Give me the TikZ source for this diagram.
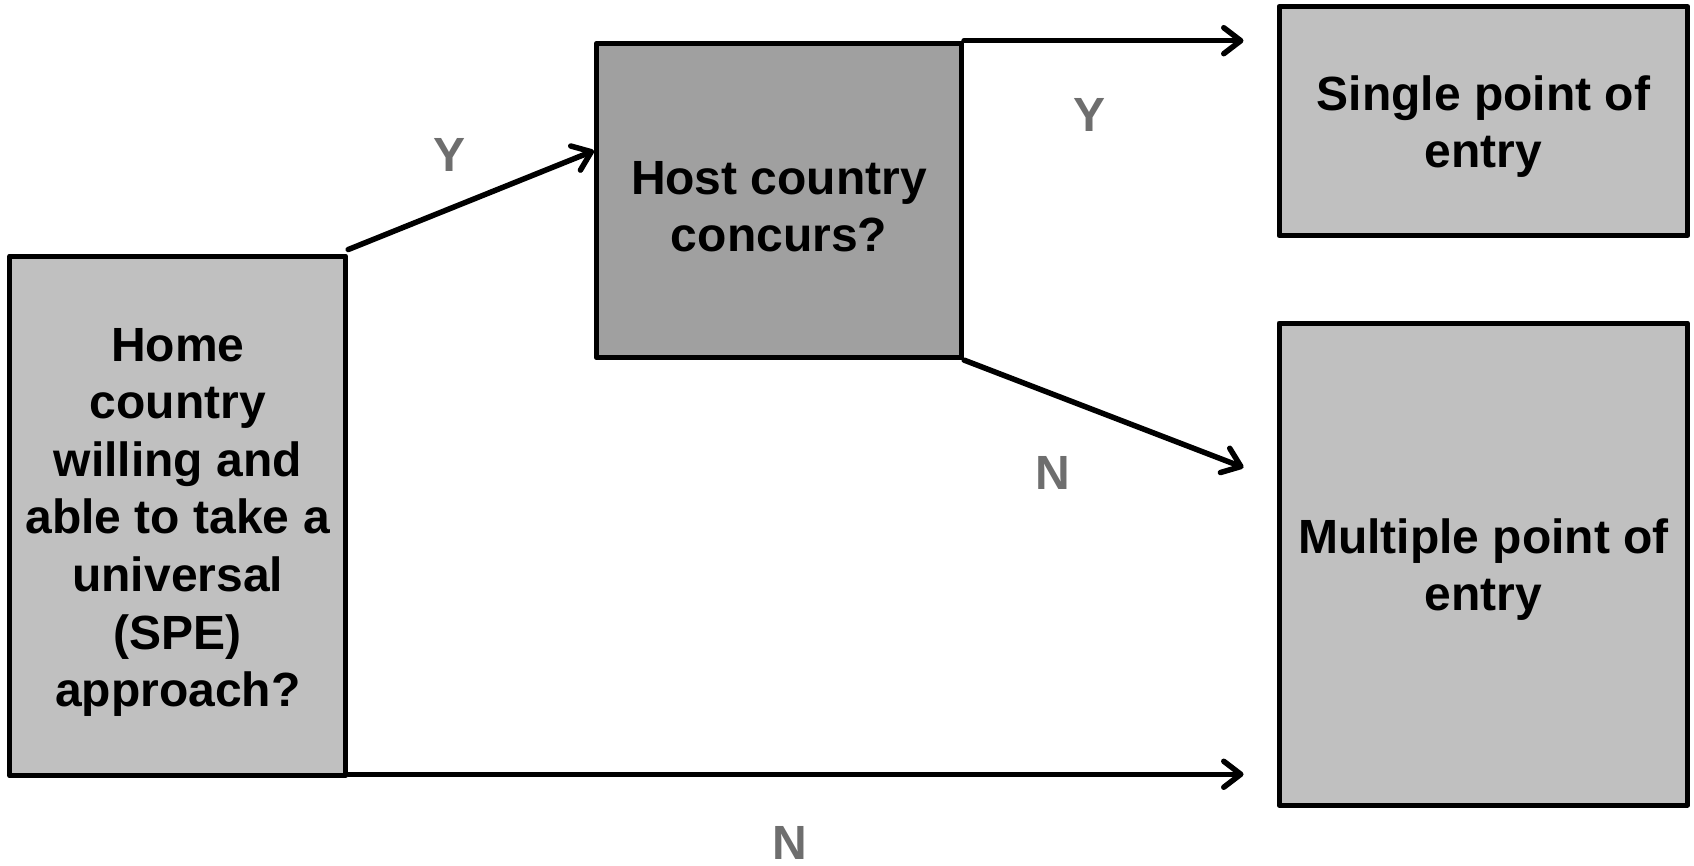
\documentclass[tikz,border=0pt]{standalone}
\usepackage{fontspec}
\setmainfont{Liberation Sans}
\usetikzlibrary{arrows.meta}
\definecolor{boxlight}{RGB}{192,192,192}
\definecolor{boxdark}{RGB}{160,160,160}
\definecolor{labgray}{RGB}{110,110,110}
\newcommand\mytopstrut{\rule{0pt}{46pt}}
\tikzset{
  box/.style={draw=black, line width=5pt, line join=round, rectangle, inner sep=0pt,
    align=center, font=\fontsize{48}{57.6}\selectfont\bfseries},
  conn/.style={draw=black, line width=5.5pt, line cap=round, -{Straight Barb[length=17pt,width=26pt,line cap=round,line join=round]}},
  lab/.style={text=labgray, font=\fontsize{48}{57.6}\selectfont\bfseries, inner sep=0pt}
}
\begin{document}
\begin{tikzpicture}[x=1pt,y=-1pt]
\useasboundingbox (0,0) rectangle (1694,865);
\node[box, fill=boxlight, minimum width=336pt, minimum height=519.7pt] (home) at (177.7,515.9)
  {\mytopstrut Home\\country\\willing and\\able to take a\\universal\\(SPE)\\approach?};
\node[box, fill=boxdark, minimum width=365.2pt, minimum height=314.4pt] (host) at (779,200.4)
  {\mytopstrut Host country\\concurs?};
\node[box, fill=boxlight, minimum width=408.6pt, minimum height=229pt] (single) at (1483.3,121)
  {\mytopstrut Single point of\\entry};
\node[box, fill=boxlight, minimum width=408.6pt, minimum height=482pt] (multi) at (1483.3,564)
  {\mytopstrut Multiple point of\\entry};
\coordinate (hostin) at ([yshift=-110pt]host.north west);
\coordinate (singlein) at ([xshift=-33pt]single.west |- host.north east);
\coordinate (multiin1) at ([xshift=-33pt,yshift=-147pt]multi.north west);
\coordinate (homeout) at ([yshift=4pt]home.south east);
\coordinate (multiin2) at ([xshift=-33pt]multi.west |- homeout);
\draw[conn] ([yshift=4pt]home.north east) -- (hostin);
\draw[conn] (host.north east) -- (singlein);
\draw[conn] (host.south east) -- (multiin1);
\draw[conn] (homeout) -- (multiin2);
\node[lab] (y1) at (449.4,154.5) {Y};
\node[lab] (y2) at (1089,114.5) {Y};
\node[lab] (n1) at (1053,473) {N};
\node[lab] (n2) at (789.8,843) {N};
\end{tikzpicture}
\end{document}
